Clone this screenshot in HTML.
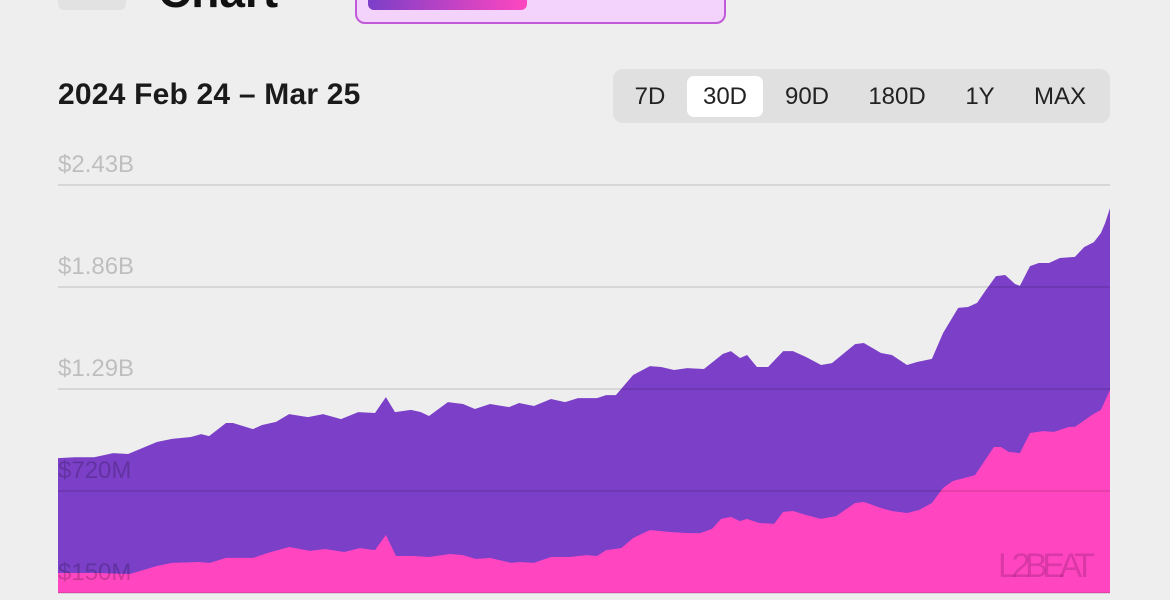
<!DOCTYPE html>
<html><head><meta charset="utf-8"><style>
body{margin:0;width:1170px;height:600px;overflow:hidden;background:#eeeeee;font-family:"Liberation Sans",sans-serif;position:relative}
.abs{position:absolute}
.btn{position:absolute;top:76px;height:41px;line-height:41px;font-size:24px;color:#222;text-align:center;border-radius:7px}
</style></head><body>
<div class="abs" style="left:58px;top:-12px;width:68px;height:22px;background:#e2e2e2;border-radius:6px"></div>
<div class="abs" style="left:158px;top:-36px;font-size:46px;font-weight:bold;color:#111">Chart</div>
<div class="abs" style="left:355px;top:-10px;width:367px;height:30px;background:#f3d3fb;border:2px solid #c05ad8;border-radius:10px"></div>
<div class="abs" style="left:368px;top:-12px;width:159px;height:22px;background:linear-gradient(90deg,#7b3fc8,#ff46c0);border-radius:6px"></div>
<div class="abs" style="left:58px;top:78px;font-size:30px;font-weight:bold;color:#1a1a1a;letter-spacing:0.2px">2024 Feb 24 – Mar 25</div>
<div class="abs" style="left:613px;top:69px;width:497px;height:54px;background:#e0e0e0;border-radius:10px"></div>
<div class="btn" style="left:625px;width:50px">7D</div>
<div class="btn" style="left:687px;width:76px;background:#fff">30D</div>
<div class="btn" style="left:775px;width:64px">90D</div>
<div class="btn" style="left:855px;width:84px">180D</div>
<div class="btn" style="left:955px;width:50px">1Y</div>
<div class="btn" style="left:1020px;width:80px">MAX</div>
<svg id="chart" class="abs" style="left:0;top:0" width="1170" height="600"></svg>
<script>
const totalDays=[0,0.48,1.03,1.57,2.00,2.82,3.25,3.79,4.08,4.31,4.79,4.99,5.56,5.82,6.22,6.59,7.13,7.56,8.07,8.56,9.04,9.35,9.61,10.07,10.35,10.58,11.12,11.55,11.89,12.32,12.86,13.15,13.57,14.06,14.46,14.83,15.37,15.63,15.91,16.40,16.88,17.20,17.57,17.94,18.42,18.96,19.19,19.45,19.65,19.93,20.25,20.68,20.96,21.33,21.76,22.07,22.73,22.98,23.47,23.78,24.21,24.50,24.92,25.24,25.67,25.95,26.21,26.46,26.75,27.01,27.29,27.43,27.72,27.97,28.26,28.57,29.00,29.26,29.54,29.74,29.86,30];
const totalVals=[904,909,909,932,927,994,1011,1022,1038,1027,1100,1100,1066,1089,1106,1150,1133,1150,1122,1161,1156,1245,1161,1173,1161,1139,1217,1206,1178,1206,1189,1212,1195,1234,1217,1239,1239,1256,1256,1368,1418,1413,1396,1407,1402,1486,1502,1463,1480,1413,1413,1502,1502,1469,1424,1435,1541,1547,1491,1480,1424,1441,1458,1603,1743,1748,1771,1843,1921,1927,1877,1866,1977,1994,1994,2022,2028,2083,2111,2162,2217,2301];
const pinkDays=[0,0.68,1.17,2.05,2.82,3.25,4.02,4.33,4.79,5.56,5.99,6.59,7.19,7.61,8.16,8.61,9.04,9.35,9.64,10.12,10.58,11.18,11.55,11.92,12.32,12.92,13.15,13.57,14.06,14.60,15.06,15.37,15.63,16.06,16.40,16.88,17.45,17.99,18.31,18.65,18.91,19.19,19.45,19.65,19.99,20.42,20.68,20.96,21.33,21.76,22.19,22.73,22.98,23.47,23.78,24.21,24.55,24.92,25.24,25.52,26.15,26.69,26.89,27.12,27.43,27.72,28.09,28.40,28.83,29.00,29.49,29.74,30];
const pinkVals=[262,262,262,256,301,318,323,318,346,346,374,407,385,396,379,401,390,474,357,357,351,368,362,340,346,318,323,318,351,351,362,357,390,401,457,502,491,485,485,508,564,575,552,564,541,536,603,608,586,564,580,653,659,625,608,597,614,653,737,776,809,966,966,938,932,1044,1055,1050,1078,1078,1145,1173,1284];
const tickVals=[150,720,1290,1860,2430];
const tickLabels=["$150M","$720M","$1.29B","$1.86B","$2.43B"];
const X0=58,X1=1110,Y0=593,PX=102/570;
const xs=d=>X0+d/30*(X1-X0);
const ys=v=>Y0-(v-150)*PX;
const NS="http://www.w3.org/2000/svg";
const svg=document.getElementById('chart');
function mk(t,a){const e=document.createElementNS(NS,t);for(const k in a)e.setAttribute(k,a[k]);svg.appendChild(e);return e;}
function area(days,vals){let d=`M${xs(days[0])},${Y0}`;days.forEach((t,i)=>d+=`L${xs(t).toFixed(1)},${ys(vals[i]).toFixed(1)}`);return d+`L${xs(days[days.length-1])},${Y0}Z`;}
const a1=mk('path',{d:area(totalDays,totalVals),fill:'#7b3fc8'});


const a2=mk('path',{d:area(pinkDays,pinkVals),fill:'#ff46c0'});


tickVals.forEach((v,i)=>{
  const l=mk('line',{x1:X0,x2:X1,y1:ys(v),y2:ys(v),stroke:'rgba(0,0,0,0.2)','stroke-width':1});
  
  
  const t=mk('text',{x:X0,y:ys(v)-13,'font-size':24,fill:'rgba(0,0,0,0.2)','font-family':'Liberation Sans, sans-serif'});
  t.textContent=tickLabels[i];
  
  
});
const w=mk('text',{x:998,y:577,'font-size':34,fill:'rgba(150,30,120,0.35)','font-family':'Liberation Sans, sans-serif',textLength:97});
w.textContent='L2BEAT';


</script>
</body></html>
